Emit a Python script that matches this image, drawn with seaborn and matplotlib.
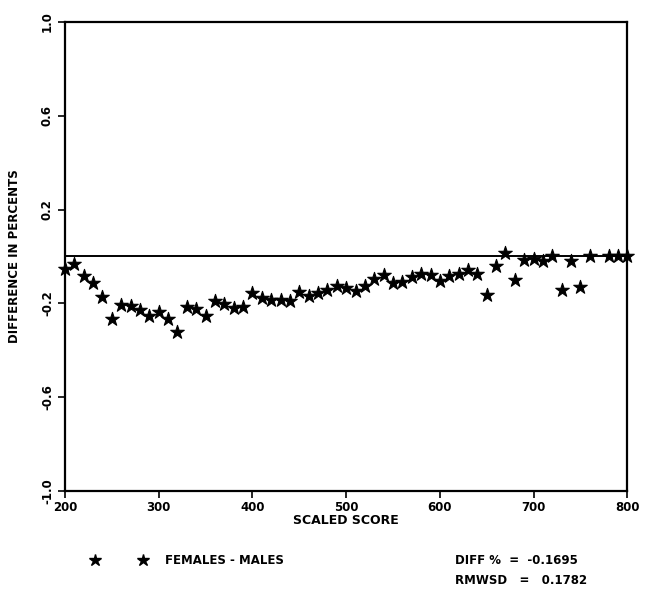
import matplotlib
matplotlib.use("Agg")
import matplotlib.pyplot as plt
import seaborn as sns
import pandas as pd
from matplotlib.lines import Line2D

# ---- data ----
scores = [200, 210, 220, 230, 240, 250, 260, 270, 280, 290,
          300, 310, 320, 330, 340, 350, 360, 370, 380, 390,
          400, 410, 420, 430, 440, 450, 460, 470, 480, 490,
          500, 510, 520, 530, 540, 550, 560, 570, 580, 590,
          600, 610, 620, 630, 640, 650, 660, 670, 680, 690,
          700, 710, 720, 730, 740, 750, 760, 780, 790, 800]
diff = [-0.055, -0.034, -0.082, -0.114, -0.171, -0.266, -0.207, -0.212, -0.230, -0.256,
        -0.238, -0.266, -0.324, -0.215, -0.226, -0.254, -0.188, -0.201, -0.220, -0.214,
        -0.158, -0.177, -0.187, -0.187, -0.190, -0.153, -0.167, -0.154, -0.144, -0.126,
        -0.134, -0.148, -0.128, -0.097, -0.079, -0.112, -0.108, -0.087, -0.077, -0.081,
        -0.103, -0.085, -0.076, -0.059, -0.077, -0.165, -0.039, 0.014, -0.100, -0.015,
        -0.012, -0.020, 0.000, -0.145, -0.018, -0.130, 0.000, 0.000, 0.000, 0.000]
xticks = [200, 300, 400, 500, 600, 700, 800]
xticklabels = ["200", "300", "400", "500", "600", "700", "800"]
yticks = [1.0, 0.6, 0.2, -0.2, -0.6, -1.0]
yticklabels = ["1.0", "0.6", "0.2", "-0.2", "-0.6", "-1.0"]
series_label = "FEMALES - MALES"
diff_pct = "-0.1695"
rmwsd = "0.1782"

df = pd.DataFrame({"score": scores, "diff": diff})

sns.set_style("white")
plt.rcParams["font.family"] = ["DejaVu Sans"]
plt.rcParams["font.weight"] = "bold"
for k in ("text.color", "axes.labelcolor", "xtick.color", "ytick.color"):
    plt.rcParams[k] = "black"

fig = plt.figure(figsize=(6.6, 5.95), dpi=100)
ax = fig.add_axes([0.0985, 0.175, 0.852, 0.788])

ax.axhline(0, color="black", lw=1.4, zorder=1)
sns.scatterplot(data=df, x="score", y="diff", marker="*", s=105,
                color="black", edgecolor="black", linewidth=0.8,
                ax=ax, zorder=3, clip_on=False, legend=False)

ax.set_xlim(200, 800)
ax.set_ylim(-1.0, 1.0)
ax.set_xticks(xticks)
ax.set_xticklabels(xticklabels, fontsize=8.5, fontweight="bold")
ax.set_yticks(yticks)
ax.set_yticklabels(yticklabels, fontsize=8.5, fontweight="bold",
                   rotation=90, va="center")
ax.tick_params(axis="both", direction="out", length=5, width=1.2,
               color="black", pad=3, left=True, bottom=True)
ax.tick_params(axis="x", pad=2)
ax.set_xlabel("SCALED SCORE", fontsize=9, fontweight="bold", labelpad=0)
ax.set_ylabel("DIFFERENCE IN PERCENTS", fontsize=8.5, fontweight="bold",
              labelpad=14)
for sp in ax.spines.values():
    sp.set_visible(True)
    sp.set_color("black")
    sp.set_linewidth(1.6)

# legend-like annotation under the plot
y_leg = 1 - 560 / 595
for xp in (95 / 660, 143 / 660):
    fig.add_artist(Line2D([xp], [y_leg], marker="*", markersize=9,
                          color="black", transform=fig.transFigure))
fig.text(165 / 660, y_leg, series_label, fontsize=8.5, fontweight="bold",
         va="center", ha="left")
fig.text(455 / 660, y_leg, "DIFF %  =  " + diff_pct, fontsize=8.5,
         fontweight="bold", va="center", ha="left")
fig.text(455 / 660, 1 - 581 / 595, "RMWSD   =   " + rmwsd, fontsize=8.5,
         fontweight="bold", va="center", ha="left")

fig.savefig("out.png", dpi=100)
